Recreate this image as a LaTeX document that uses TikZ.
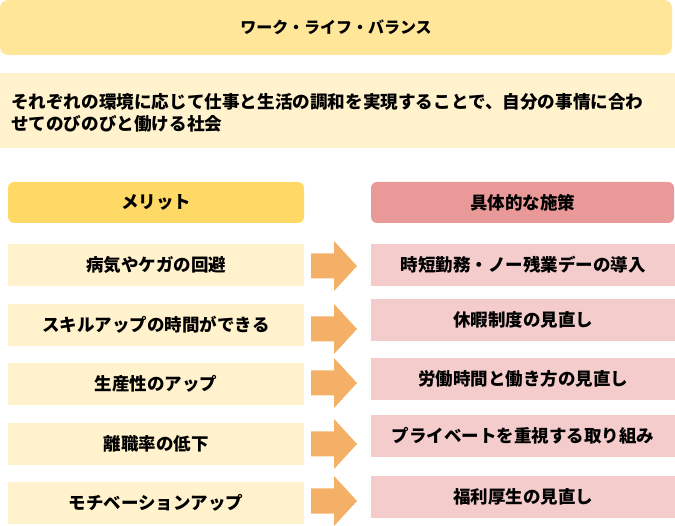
\documentclass[tikz,border=0pt]{standalone}
\usepackage{fontspec}
\setmainfont{Noto Sans CJK JP}
\begin{document}
\begin{tikzpicture}[x=1pt,y=-1pt,
  txt/.style={font=\bfseries\fontsize{17.5}{21}\selectfont, text=black},
  plain/.style={draw=none, inner sep=0pt}]
\definecolor{topc}{HTML}{FFE699}
\definecolor{descc}{HTML}{FFF2CC}
\definecolor{meritc}{HTML}{FFD966}
\definecolor{measc}{HTML}{EA9999}
\definecolor{measi}{HTML}{F4CCCC}
\definecolor{arrc}{HTML}{F4B066}
\useasboundingbox (0,0) rectangle (675,526);
% top title
\fill[topc, rounded corners=8pt] (0,0) rectangle (672,55);
\node[txt, plain, font=\bfseries\fontsize{16}{20}\selectfont] (title) at (336,27.5) {ワーク・ライフ・バランス};
% description
\fill[descc] (0,73) rectangle (675,148);
\node[font=\bfseries\fontsize{17.6}{22}\selectfont, align=left, anchor=west, plain] (desc) at (11,113)
  {それぞれの環境に応じて仕事と生活の調和を実現することで、自分の事情に合わ\\せてのびのびと働ける社会};
% headers
\fill[meritc, rounded corners=6pt] (8,182) rectangle (304,223);
\node[txt, plain] (merit) at (156,202.5) {メリット};
\fill[measc, rounded corners=6pt] (371,182) rectangle (674,223);
\node[txt, plain] (meas) at (522.5,202.5) {具体的な施策};
% merit items
\foreach \t/\lab [count=\i] in {244/病気やケガの回避,304/スキルアップの時間ができる,363/生産性のアップ,423/離職率の低下,482/モチベーションアップ}{
  \fill[descc] (8,\t) rectangle (304,\t+42);
  \node[txt, plain] (m\i) at (156,\t+21) {\lab};
}
% measure items
\foreach \t/\lab [count=\i] in {244/時短勤務・ノー残業デーの導入,299/休暇制度の見直し,358/労働時間と働き方の見直し,415/プライベートを重視する取り組み,476/福利厚生の見直し}{
  \fill[measi] (371,\t) rectangle (675,\t+42);
  \node[txt, plain] (s\i) at (523,\t+21) {\lab};
}
% block arrows
\foreach \c in {266,329,383,444,501}{
  \fill[arrc] (311,\c-12.5) -- (334,\c-12.5) -- (334,\c-25) -- (357,\c) -- (334,\c+25) -- (334,\c+12.5) -- (311,\c+12.5) -- cycle;
}
\end{tikzpicture}
\end{document}
